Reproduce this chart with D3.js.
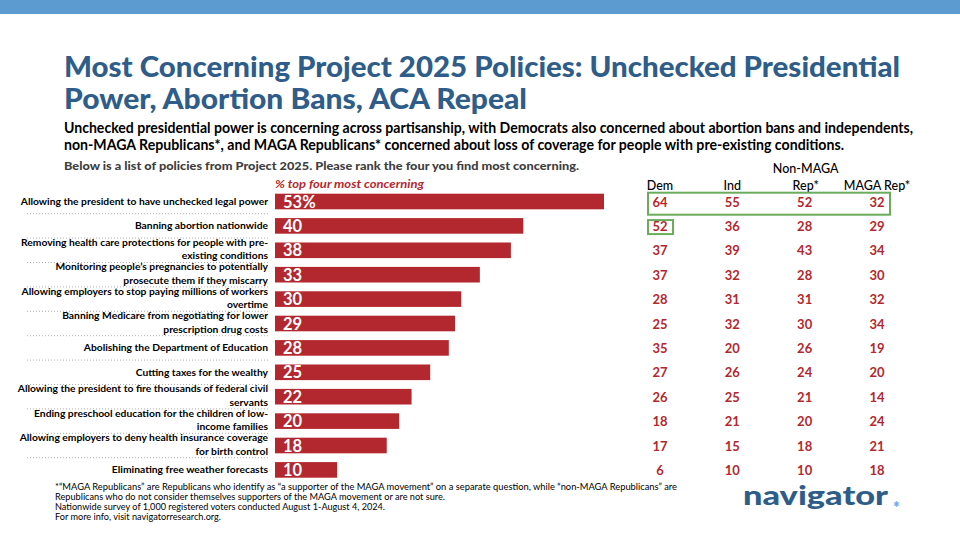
<!DOCTYPE html>
<html>
<head>
<meta charset="utf-8">
<script src="https://cdn.jsdelivr.net/npm/d3@7"></script>
<style>
  body { margin: 0; background: #fff; }
  svg { display: block; }
  text { font-family: Lato, "Open Sans", sans-serif; }
</style>
</head>
<body>
<svg id="vis" width="960" height="540"></svg>
<script>
// policies in chart order, split into lines the way the slide wraps them
const policies = [
    ["Allowing the president to have unchecked legal power"],
    ["Banning abortion nationwide"],
    ["Removing health care protections for people with pre-", "existing conditions"],
    ["Monitoring people\u2019s pregnancies to potentially", "prosecute them if they miscarry"],
    ["Allowing employers to stop paying millions of workers", "overtime"],
    ["Banning Medicare from negotiating for lower", "prescription drug costs"],
    ["Abolishing the Department of Education"],
    ["Cutting taxes for the wealthy"],
    ["Allowing the president to fire thousands of federal civil", "servants"],
    ["Ending preschool education for the children of low-", "income families"],
    ["Allowing employers to deny health insurance coverage", "for birth control"],
    ["Eliminating free weather forecasts"]
];
const totals   = [53, 40, 38, 33, 30, 29, 28, 25, 22, 20, 18, 10];
const dem      = [64, 52, 37, 37, 28, 25, 35, 27, 26, 18, 17, 6];
const ind      = [55, 36, 39, 32, 31, 32, 20, 26, 25, 21, 15, 10];
const nonMaga  = [52, 28, 43, 28, 31, 30, 26, 24, 21, 20, 18, 10];
const maga     = [32, 29, 34, 30, 32, 34, 19, 20, 14, 24, 21, 18];
const groups   = ["Dem", "Ind", "Non-MAGA Rep*", "MAGA Rep*"];
const groupHeaders = [["Dem"], ["Ind"], ["Non-MAGA", "Rep*"], ["MAGA Rep*"]];
// highlighted cells: row index, first and last group
const highlights = [
    {row: 0, from: "Dem", to: "MAGA Rep*"},
    {row: 1, from: "Dem", to: "Dem"}
];

const titleLines = ["Most Concerning Project 2025 Policies: Unchecked Presidential",
                    "Power, Abortion Bans, ACA Repeal"];
const subtitleLines = ["Unchecked presidential power is concerning across partisanship, with Democrats also concerned about abortion bans and independents,",
                       "non-MAGA Republicans*, and MAGA Republicans* concerned about loss of coverage for people with pre-existing conditions."];
const question = "Below is a list of policies from Project 2025. Please rank the four you find most concerning.";
const measureLabel = "% top four most concerning";
const footnotes = [
    "*\u201cMAGA Republicans\u201d are Republicans who identify as \u201ca supporter of the MAGA movement\u201d on a separate question, while \u201cnon-MAGA Republicans\u201d are",
    "Republicans who do not consider themselves supporters of the MAGA movement or are not sure.",
    "Nationwide survey of 1,000 registered voters conducted August 1-August 4, 2024.",
    "For more info, visit navigatorresearch.org."
];

const RED = "#b3282e";
const NAVY = "#2f5d8a";

const svg = d3.select("#vis");

// top band
svg.append("rect").attr("x", 0).attr("y", 0).attr("width", 960).attr("height", 14)
    .attr("fill", "#5b9bcf");

// helper: squeeze or stretch a line of text to the width it has on the slide
function fitText(sel, width){
    sel.each(function(){
        const w = this.getComputedTextLength();
        if (width && Math.abs(w - width) > 2) {
            d3.select(this).attr("textLength", width).attr("lengthAdjust", "spacingAndGlyphs");
        }
    });
}

// title
const titleWidths = [836, 463];
titleLines.forEach(function(t, i){
    svg.append("text")
        .attr("x", 64).attr("y", 77 + i * 32)
        .attr("font-size", 28.5).attr("font-weight", 900)
        .attr("fill", NAVY)
        .text(t)
        .call(fitText, titleWidths[i]);
});

const subWidths = [849, 780];
subtitleLines.forEach(function(t, i){
    svg.append("text")
        .attr("x", 64).attr("y", 133 + i * 16.5)
        .attr("font-size", 14.5).attr("font-weight", 700)
        .attr("fill", "#000")
        .text(t)
        .call(fitText, subWidths[i]);
});

svg.append("text")
    .attr("x", 64).attr("y", 170)
    .attr("font-size", 11.5).attr("font-weight", 900)
    .attr("fill", "#3f3f3f")
    .text(question)
    .call(fitText, 515);

// scales
const y = d3.scaleBand()
    .domain(d3.range(policies.length))
    .range([189.3, 189.3 + 24.4 * policies.length])
    .paddingInner(0.36)
    .paddingOuter(0.18);

const x = d3.scaleLinear().domain([0, 53]).range([275, 604]);

const col = d3.scalePoint().domain(groups).range([660, 877]);

svg.append("text")
    .attr("x", x(0)).attr("y", 188)
    .attr("font-size", 12).attr("font-weight", 700).attr("font-style", "italic")
    .attr("fill", RED)
    .text(measureLabel)
    .call(fitText, 149);

// dotted separators between rows
svg.append("g").selectAll("line")
    .data(d3.range(policies.length - 1))
    .enter().append("line")
    .attr("x1", 27).attr("x2", 270)
    .attr("y1", function(i){ return y(i) + y.bandwidth() / 2 + y.step() / 2; })
    .attr("y2", function(i){ return y(i) + y.bandwidth() / 2 + y.step() / 2; })
    .attr("stroke", "#b0b0b0").attr("stroke-width", 1)
    .attr("stroke-dasharray", "1,2");

// labels
const labels = svg.append("g").selectAll("text")
    .data(policies)
    .enter().append("text")
    .attr("text-anchor", "end")
    .attr("font-size", 10.3).attr("font-weight", 700)
    .attr("fill", "#000");
labels.each(function(lines, i){
    const cy = y(i) + y.bandwidth() / 2;
    const start = lines.length === 1 ? cy + 3.5 : cy - 4.5;
    d3.select(this).selectAll("tspan")
        .data(lines)
        .enter().append("tspan")
        .attr("x", 268)
        .attr("y", function(d, j){ return start + j * 13.5; })
        .text(function(d){ return d; });
});

// bars
svg.append("g").selectAll("rect")
    .data(totals)
    .enter().append("rect")
    .attr("x", x(0))
    .attr("y", function(d, i){ return y(i); })
    .attr("width", function(d){ return x(d) - x(0); })
    .attr("height", y.bandwidth())
    .attr("fill", RED);

svg.append("g").selectAll("text")
    .data(totals)
    .enter().append("text")
    .attr("x", x(0) + 8)
    .attr("y", function(d, i){ return y(i) + y.bandwidth() / 2 + 6; })
    .attr("font-size", 16.5).attr("font-weight", 700)
    .attr("fill", "#fff")
    .text(function(d, i){ return i === 0 ? d + "%" : d; });

// group table
groupHeaders.forEach(function(lines, g){
    lines.forEach(function(t, j){
        svg.append("text")
            .attr("x", col(groups[g]) + (lines.length > 1 ? 1 : 0))
            .attr("y", 190 - (lines.length - 1 - j) * 17)
            .attr("text-anchor", "middle")
            .attr("font-size", 12.5).attr("font-weight", 500)
            .attr("fill", "#000")
            .text(t);
    });
});

const table = [dem, ind, nonMaga, maga];
table.forEach(function(values, g){
    svg.append("g").selectAll("text")
        .data(values)
        .enter().append("text")
        .attr("x", col(groups[g]))
        .attr("y", function(d, i){ return y(i) + y.bandwidth() / 2 + 5; })
        .attr("text-anchor", "middle")
        .attr("font-size", 13).attr("font-weight", 700)
        .attr("fill", RED)
        .text(function(d){ return d; });
});

// green highlight boxes
svg.append("g").selectAll("rect")
    .data(highlights)
    .enter().append("rect")
    .attr("x", function(d){ return col(d.from) - 12; })
    .attr("width", function(d){ return col(d.to) - col(d.from) + 25; })
    .attr("y", function(d){ return d.row === 0 ? y(d.row) - 1 : y(d.row) + 2; })
    .attr("height", function(d){ return d.row === 0 ? 22 : 14; })
    .attr("fill", "none")
    .attr("stroke", "#6aab5c").attr("stroke-width", 2);

// footnotes
const footWidths = [622, 390, 330, 166];
footnotes.forEach(function(t, i){
    svg.append("text")
        .attr("x", 55).attr("y", 490 + i * 10)
        .attr("font-size", 9)
        .attr("fill", "#000")
        .text(t)
        .call(fitText, footWidths[i]);
});

// logo
svg.append("text")
    .attr("x", 743).attr("y", 505)
    .attr("font-size", 27).attr("font-weight", 900)
    .attr("fill", NAVY)
    .text("navigator")
    .call(fitText, 145);
svg.append("text")
    .attr("x", 893).attr("y", 514)
    .attr("font-size", 16).attr("font-weight", 900)
    .attr("fill", "#6fa8dc")
    .text("*");
</script>
</body>
</html>
